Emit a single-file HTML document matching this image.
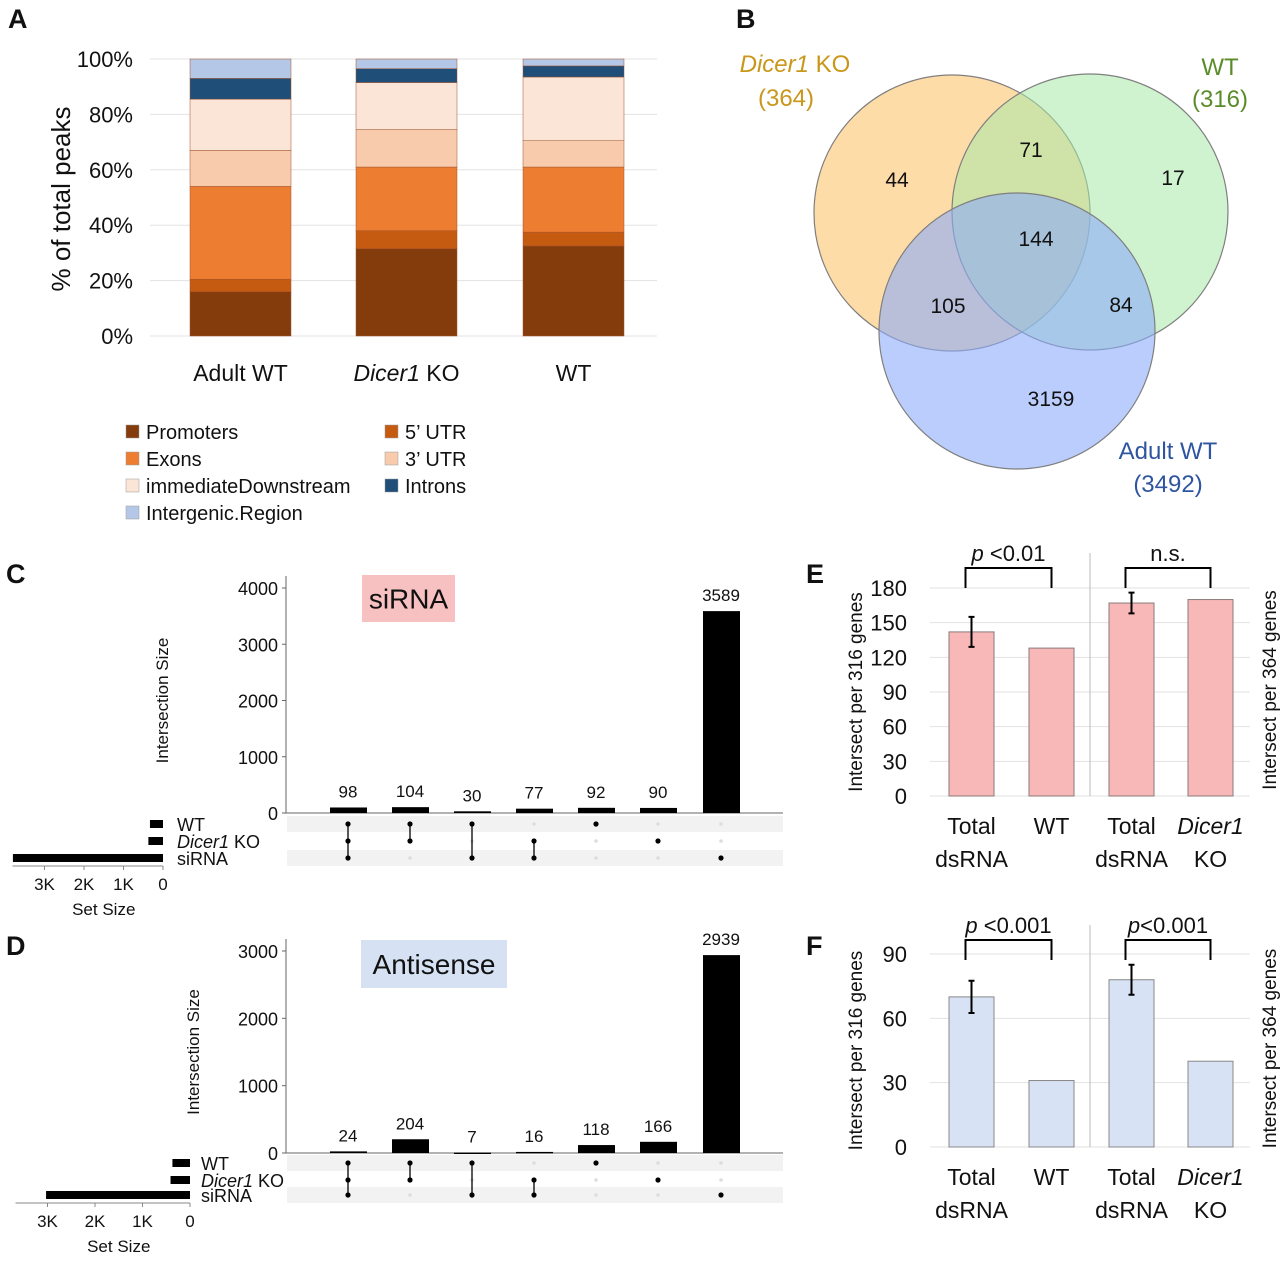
<!DOCTYPE html>
<html><head><meta charset="utf-8"><style>
html,body{margin:0;padding:0;background:#fff;}
svg{display:block;font-family:"Liberation Sans",sans-serif;}
</style></head><body>
<svg id="fig" width="1280" height="1267" viewBox="0 0 1280 1267" xmlns="http://www.w3.org/2000/svg">
<g id="panelA"></g>
<g id="panelB"></g>
<g id="panelC"></g>
<g id="panelD"></g>
<g id="panelE"></g>
<g id="panelF"></g>
</svg>
<script>
// ---------- Panel A data ----------
const aCategories = ["Adult WT", "Dicer1 KO", "WT"];
const aSeriesNames = ["Promoters","5\u2019 UTR","Exons","3\u2019 UTR","immediateDownstream","Introns","Intergenic.Region"];
const aPromoters = [16, 31.5, 32.5];
const a5UTR = [4.5, 6.5, 5];
const aExons = [33.5, 23, 23.5];
const a3UTR = [13, 13.5, 9.5];
const aDownstream = [18.5, 17, 23];
const aIntrons = [7.5, 5, 4];
const aIntergenic = [7, 3.5, 2.5];
const aTicks = [0,20,40,60,80,100];
// ---------- Panel B data ----------
const vennRegions = ["dicer-only","dicer-wt","wt-only","all","dicer-adult","wt-adult","adult-only"];
const vennCounts = [44,71,17,144,105,84,3159];
// ---------- Panel C data ----------
const cCounts = [98,104,30,77,92,90,3589];
const cTicks = [0,1000,2000,3000,4000];
const setNames = ["WT","Dicer1 KO","siRNA"];
const cSetSizes = [330, 370, 3800];
const setSizeTicks = [3000,2000,1000,0];
const memberships = [[0,1,2],[0,1],[0,2],[1,2],[0],[1],[2]];
// ---------- Panel D data ----------
const dCounts = [24,204,7,16,118,166,2939];
const dTicks = [0,1000,2000,3000];
const dSetSizes = [370, 410, 3030];
// ---------- Panel E/F data ----------
const efCategories = ["Total dsRNA","WT","Total dsRNA","Dicer1 KO"];
const eValues = [142,128,167,170];
const eErrors = [13,0,9,0];
const eTicks = [0,30,60,90,120,150,180];
const fValues = [70,31,78,40];
const fErrors = [7.5,0,7,0];
const fTicks = [0,30,60,90];

const NS="http://www.w3.org/2000/svg";
function mk(parent, tag, attrs, text){
  const el=document.createElementNS(NS,tag);
  for(const k in attrs) el.setAttribute(k,attrs[k]);
  if(text!==undefined) el.textContent=text;
  parent.appendChild(el); return el;
}
function label(parent,x,y,txt,size,opts){
  opts=opts||{};
  txt=txt||'';
  const t=mk(parent,'text',{x:x,y:y,'font-size':size,fill:opts.fill||'#111','text-anchor':opts.anchor||'start'});
  if(opts.weight) t.setAttribute('font-weight',opts.weight);
  if(opts.rot) t.setAttribute('transform','rotate('+opts.rot+' '+x+' '+y+')');
  if(txt.indexOf('Dicer1')===0){
    mk(t,'tspan',{'font-style':'italic'},'Dicer1');
    mk(t,'tspan',{},txt.slice(6));
  } else t.textContent=txt;
  return t;
}

// ================= Panel A =================
(function(){
  const g=document.getElementById('panelA');
  const y0=336, y100=59;
  const yA=v=>y0-(y0-y100)*v/100;
  const lt=label(g,8,28,'A',27,{weight:'bold'});
  
  
  aTicks.forEach(t=>{
    const gl=mk(g,'line',{x1:150,x2:657,y1:yA(t),y2:yA(t),stroke:'#e3e3e3','stroke-width':1});
    
    
    const tl=label(g,133,yA(t)+8,t+'%',22,{anchor:'end'});
    
    
  });
  const yt=label(g,70,199,'% of total peaks',26,{anchor:'middle',rot:-90});
  
  
  const series=[aPromoters,a5UTR,aExons,a3UTR,aDownstream,aIntrons,aIntergenic];
  const colors=['#843c0c','#c55a11','#ed7d31','#f8cbad','#fbe5d6','#1f4e79','#b4c7e7'];
  const xs=[190,356,523], bw=101;
  aCategories.forEach((c,i)=>{
    let acc=0;
    series.forEach((s,j)=>{
      const v=s[i];
      const r=mk(g,'rect',{x:xs[i],y:yA(acc+v),width:bw,height:yA(acc)-yA(acc+v),fill:colors[j],stroke:'#a0522d','stroke-width':0.5});
      
      
      acc+=v;
    });
    const cl=label(g,xs[i]+bw/2,381,c,23,{anchor:'middle'});
    
    
  });
  const legPos=[[126,432],[385,432],[126,459],[385,459],[126,486],[385,486],[126,513]];
  const legOrder=[0,1,2,3,4,5,6];
  legOrder.forEach((j,k)=>{
    const p=legPos[k];
    const sq=mk(g,'rect',{x:p[0],y:p[1]-7,width:13,height:13,fill:colors[j],stroke:'#999','stroke-width':0.5});
    
    
    const lt2=label(g,p[0]+20,p[1]+7,aSeriesNames[j],20);
    
    
  });
})();

// ================= Panel B =================
(function(){
  const g=document.getElementById('panelB');
  const lt=label(g,736,28,'B',27,{weight:'bold'});
  
  
  const circ=[[952,213,'rgba(253,196,110,0.6)','dicer1-ko-circle'],[1090,212,'rgba(168,232,168,0.55)','wt-circle'],[1017,331,'rgba(140,172,250,0.6)','adult-wt-circle']];
  circ.forEach(c=>{
    const e=mk(g,'circle',{cx:c[0],cy:c[1],r:138,fill:c[2],stroke:'#7f7f7f','stroke-width':1.2});
    
    
  });
  const pos=[[897,187],[1031,157],[1173,185],[1036,246],[948,313],[1121,312],[1051,406]];
  vennCounts.forEach((v,i)=>{
    const t=label(g,pos[i][0],pos[i][1],String(v),21,{anchor:'middle'});
    
    
  });
  const labs=[[795,72,'Dicer1 KO','#c9971a'],[786,106,'(364)','#c9971a'],[1220,75,'WT','#5b8c2a'],[1220,107,'(316)','#5b8c2a'],[1168,459,'Adult WT','#3055a0'],[1168,492,'(3492)','#3055a0']];
  labs.forEach(l=>{
    const t=label(g,l[0],l[1],l[2],24,{anchor:'middle',fill:l[3]});
    
    
  });
})();

// ================= UpSet (C & D) =================
function upset(gid,letter,letterY,counts,ticks,maxV,yZero,yMax,titleX,boxTxt,box,boxColor,rowsY,setSizes,ssZero,ssPer1K,ssAxisY,setLabelX,ssBarH){
  const g=document.getElementById(gid);
  const lt=label(g,6,letterY,letter,27,{weight:'bold'});
  
  
  const yS=v=>yZero-(yZero-yMax)*v/maxV;
  const xs=[348,410,472,534,596,658,721];
  const axisX=286;
  rowsY.forEach((ry,i)=>{
    if(i!==1){
      const r=mk(g,'rect',{x:axisX+1,y:ry-8,width:496,height:16,fill:'#f2f2f2'});
      
      
    }
  });
  const ya=mk(g,'line',{x1:axisX,x2:axisX,y1:yS(ticks[ticks.length-1])-12,y2:yZero,stroke:'#666','stroke-width':1});
  
  
  const xa=mk(g,'line',{x1:axisX,x2:783,y1:yZero,y2:yZero,stroke:'#666','stroke-width':1});
  
  
  ticks.forEach(t=>{
    const tk=mk(g,'line',{x1:axisX-4,x2:axisX,y1:yS(t),y2:yS(t),stroke:'#666'});
    
    
    const tl=label(g,axisX-8,yS(t)+7,String(t),18,{anchor:'end'});
    
    
  });
  const tt=label(g,titleX,(yZero+yS(ticks[ticks.length-1]))/2,'Intersection Size',17,{anchor:'middle',rot:-90});
  
  
  const bx=mk(g,'rect',{x:box[0],y:box[1],width:box[2],height:box[3],fill:boxColor});
  
  
  const btx=label(g,box[0]+box[2]/2,box[1]+box[3]/2+10,boxTxt,28,{anchor:'middle'});
  
  
  counts.forEach((v,i)=>{
    const top=yS(v);
    const b=mk(g,'rect',{x:xs[i]-18,y:top,width:37,height:Math.max(yZero-top,1.5),fill:'#000'});
    
    
    const vl=label(g,xs[i],top-10,String(v),17,{anchor:'middle'});
    
    
    const mem=memberships[i];
    rowsY.forEach((ry,r)=>{
      const on=mem.indexOf(r)>=0;
      const d=mk(g,'circle',{cx:xs[i],cy:ry,r:on?2.6:1.8,fill:on?'#000':'#ddd'});
      
      
    });
    if(mem.length>1){
      const ln=mk(g,'line',{x1:xs[i],x2:xs[i],y1:rowsY[Math.min(...mem)],y2:rowsY[Math.max(...mem)],stroke:'#000','stroke-width':1.3});
      
      
    }
  });
  const xs2=v=>ssZero-ssPer1K*v/1000;
  setSizes.forEach((v,r)=>{
    const b=mk(g,'rect',{x:xs2(v),y:rowsY[r]-ssBarH/2,width:ssZero-xs2(v),height:ssBarH,fill:'#000'});
    
    
    const sl=label(g,setLabelX,rowsY[r]+7,setNames[r],18);
    
    
  });
  const sa=mk(g,'line',{x1:xs2(setSizeTicks[0])-32,x2:ssZero,y1:ssAxisY,y2:ssAxisY,stroke:'#888'});
  
  
  setSizeTicks.forEach(t=>{
    const tk=mk(g,'line',{x1:xs2(t),x2:xs2(t),y1:ssAxisY,y2:ssAxisY+4,stroke:'#888'});
    
    
    const tl=label(g,xs2(t),ssAxisY+24,t===0?'0':(t/1000)+'K',17,{anchor:'middle'});
    
    
  });
  const st=label(g,(xs2(setSizeTicks[0])+ssZero)/2,ssAxisY+49,'Set Size',17,{anchor:'middle'});
  
  
}
upset('panelC','C',583,cCounts,cTicks,4000,813,588,168,'siRNA',[362,575,93,47],'#f8c1c1',[824,841,858],cSetSizes,163,39.5,866,177,8);
upset('panelD','D',955,dCounts,dTicks,3000,1153,951,199,'Antisense',[361,940,146,48],'#d6e1f3',[1163,1180,1195],dSetSizes,190,47.5,1203,201,8);

// ================= Bars (E & F) =================
function bars(gid,letter,letterY,vals,errs,ticks,maxV,yZero,yMax,fill,stroke,pTxt,dividerTop,bracketY){
  const g=document.getElementById(gid);
  const lt=label(g,806,letterY,letter,27,{weight:'bold'});
  
  
  const yS=v=>yZero-(yZero-yMax)*v/maxV;
  ticks.forEach(t=>{
    const gl=mk(g,'line',{x1:930,x2:1250,y1:yS(t),y2:yS(t),stroke:'#e2e2e2'});
    
    
    const tl=label(g,907,yS(t)+8,String(t),22,{anchor:'end'});
    
    
  });
  const dv=mk(g,'line',{x1:1090,x2:1090,y1:dividerTop,y2:yZero,stroke:'#bbb'});
  
  
  const xs=[949,1029,1109,1188], bw=45;
  vals.forEach((v,i)=>{
    const b=mk(g,'rect',{x:xs[i],y:yS(v),width:bw,height:yZero-yS(v),fill:fill,stroke:stroke,'stroke-width':1});
    
    
    if(errs[i]>0){
      const cx=xs[i]+bw/2;
      const e=mk(g,'path',{d:'M'+cx+' '+yS(v+errs[i])+'V'+yS(v-errs[i])+'M'+(cx-3)+' '+yS(v+errs[i])+'h6M'+(cx-3)+' '+yS(v-errs[i])+'h6',stroke:'#000','stroke-width':2,fill:'none'});
      
      
    }
    const words=efCategories[i].split(' ');
    const l1=label(g,xs[i]+bw/2,yZero+38,words[0],23,{anchor:'middle'});
    
    
    const l2=label(g,xs[i]+bw/2,yZero+71,words[1]||'',23,{anchor:'middle'});
    
    
  });
  [[0,1],[2,3]].forEach((pr,k)=>{
    const a=xs[pr[0]]+bw/2-6, b=xs[pr[1]]+bw/2;
    const br=mk(g,'path',{d:'M'+a+' '+(bracketY+20)+'V'+bracketY+'H'+b+'V'+(bracketY+20),stroke:'#000','stroke-width':2,fill:'none'});
    
    
    const txt=pTxt[k];
    const t=mk(g,'text',{x:(a+b)/2,y:bracketY-7,'font-size':22,'text-anchor':'middle',fill:'#111'});
    
    
    if(txt[0]==='p'){ mk(t,'tspan',{'font-style':'italic'},'p'); mk(t,'tspan',{},txt.slice(1)); }
    else t.textContent=txt;
  });
  const y1=label(g,862,(yZero+yMax)/2,'Intersect per 316 genes',19,{anchor:'middle',rot:-90});
  
  
  const y2=label(g,1276,(yZero+yMax)/2-2,'Intersect per 364 genes',19,{anchor:'middle',rot:-90});
  
  
}
bars('panelE','E',583,eValues,eErrors,eTicks,180,796,588,'#f9b8b8','#8a7a7a',['p <0.01','n.s.'],553,568);
bars('panelF','F',955,fValues,fErrors,fTicks,90,1147,954,'#d7e2f4','#888',['p <0.001','p<0.001'],925,940);
</script>
</body></html>
